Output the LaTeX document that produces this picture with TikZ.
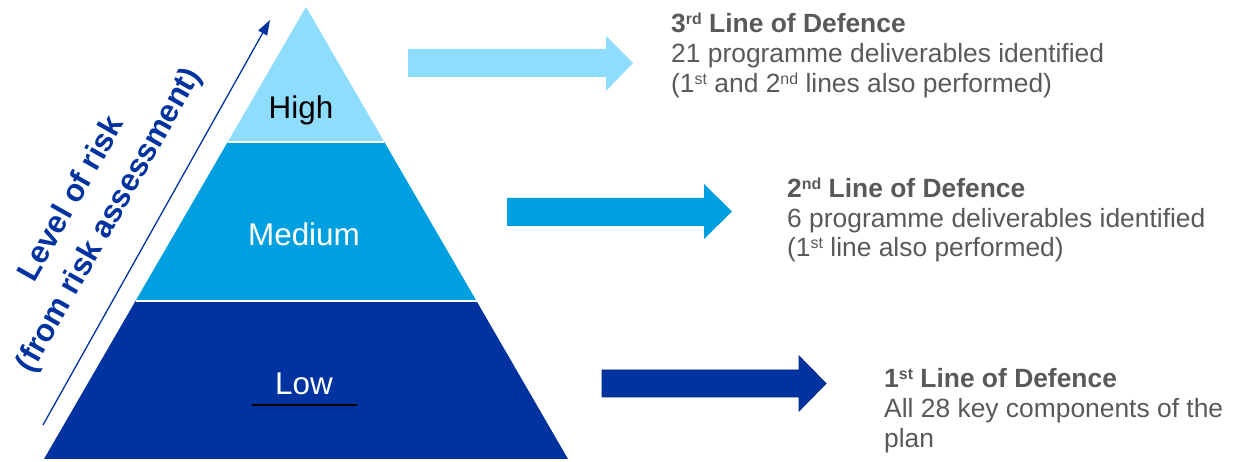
\documentclass[tikz,border=0pt]{standalone}
\usepackage{fontspec}
\setmainfont{Liberation Sans}
\usetikzlibrary{arrows.meta}
\definecolor{riskhigh}{RGB}{142,221,252}
\definecolor{riskmed}{RGB}{0,160,224}
\definecolor{risklow}{RGB}{0,51,160}
\definecolor{risklowedge}{RGB}{0,38,128}
\definecolor{bodygrey}{RGB}{88,89,91}
% small raised ordinal suffix
\newcommand\supx[1]{\raisebox{8bp}{\fontsize{16}{16}\selectfont #1}}
\begin{document}
\begin{tikzpicture}[x=1bp,y=1bp,
  bandlabel/.style={anchor=base, inner sep=0pt, font=\fontsize{31.5}{36}\selectfont},
  bodytext/.style={anchor=base west, inner sep=0pt, text=bodygrey, font=\fontsize{26.5}{30}\selectfont},
  headtext/.style={bodytext, font=\bfseries\fontsize{26.5}{30}\selectfont},
  divider/.style={white, line width=2bp}]
\useasboundingbox (0,0) rectangle (1243,462);

% pyramid corners
\coordinate (apex) at (306,455);
\coordinate (hl) at (227.7,320);
\coordinate (hr) at (384.3,320);
\coordinate (ml) at (135.5,161);
\coordinate (mr) at (476.5,161);
\coordinate (bl) at (44,3);
\coordinate (br) at (568,3);

% pyramid bands
\fill[riskhigh] (apex) -- (hr) -- (hl) -- cycle;
\fill[riskmed] (hl) -- (hr) -- (mr) -- (ml) -- cycle;
\fill[risklow] (ml) -- (mr) -- (br) -- (bl) -- cycle;
\draw[divider] (hl) -- (hr);
\draw[divider] (ml) -- (mr);

% band labels
\node[bandlabel, text=black] (high) at (301,343) {High};
\node[bandlabel, text=white] (medium) at (304,216) {Medium};
\node[bandlabel, text=white] (low) at (304,67) {Low};
\coordinate (ulA) at (252,57);
\coordinate (ulB) at (357,57);
\draw[black, line width=2bp] (ulA) -- (ulB);

% level of risk axis
\coordinate (axs) at (43,37);
\coordinate (axe) at (270,442);
\draw[risklow, line width=1.3bp, -{Triangle[length=15bp,width=10bp]}] (axs) -- (axe);
\node[rotate=60.5, align=center, text=risklow, font=\bfseries\fontsize{31.5}{36}\selectfont]
  (risklabel) at (91,252) {Level of risk\\[7bp](from risk assessment)};

% block arrows
\fill[riskhigh] (408,385) -- (606,385) -- (606,371) -- (633,399) -- (606,426) -- (606,413) -- (408,413) -- cycle;
\fill[riskmed] (507,236) -- (704,236) -- (704,223) -- (732,250.5) -- (704,278) -- (704,264) -- (507,264) -- cycle;
\filldraw[fill=risklow, draw=risklowedge, line width=0.8bp] (602,65) -- (799,65) -- (799,51) -- (826,78.5) -- (799,106) -- (799,92) -- (602,92) -- cycle;

% third line
\node[headtext] (t3a) at (671,429) {3\supx{rd} Line of Defence};
\node[bodytext] (t3b) at (671,399) {21 programme deliverables identified};
\node[bodytext] (t3c) at (671,369) {(1\supx{st} and 2\supx{nd} lines also performed)};

% second line
\node[headtext] (t2a) at (787,264) {2\supx{nd} Line of Defence};
\node[bodytext] (t2b) at (787,234) {6 programme deliverables identified};
\node[bodytext] (t2c) at (787,205) {(1\supx{st} line also performed)};

% first line
\node[headtext] (t1a) at (884,74) {1\supx{st} Line of Defence};
\node[bodytext] (t1b) at (884,44) {All 28 key components of the};
\node[bodytext] (t1c) at (884,14) {plan};
\end{tikzpicture}
\end{document}
